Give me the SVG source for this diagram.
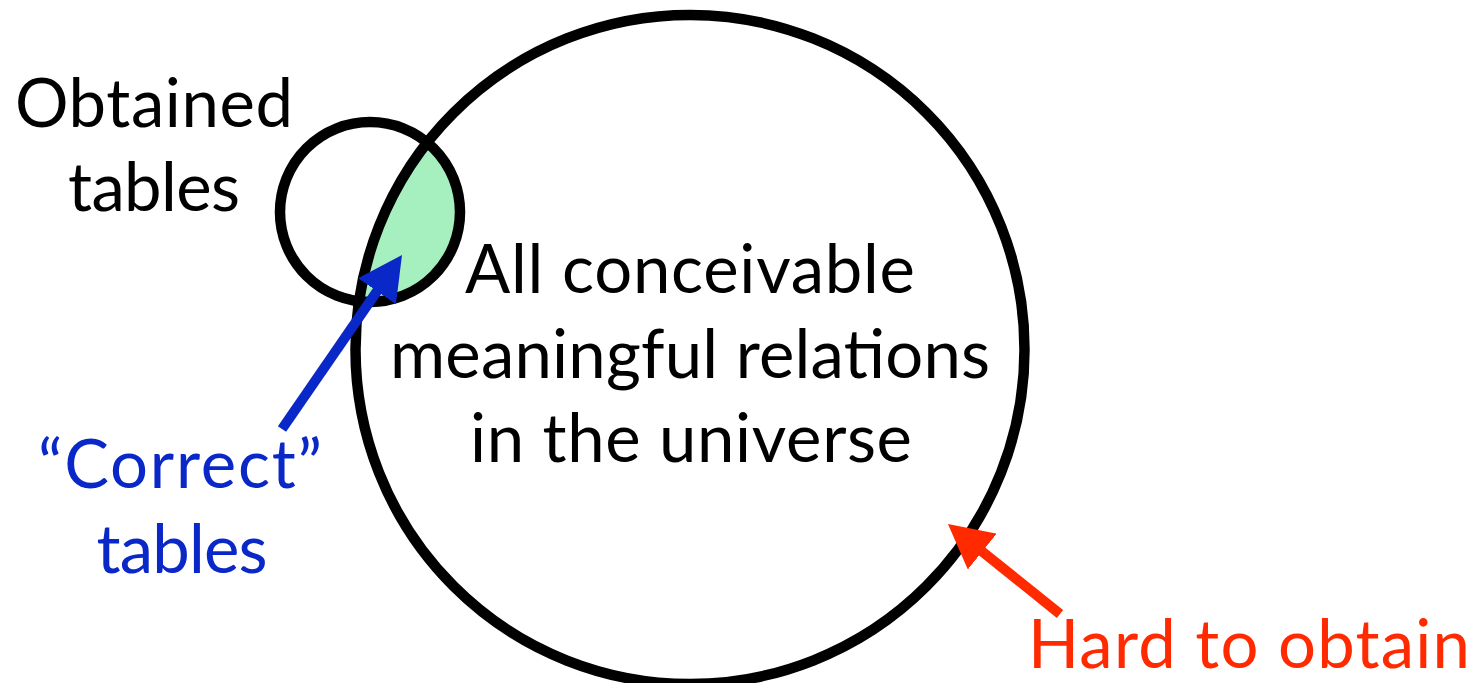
<svg xmlns="http://www.w3.org/2000/svg" width="1480" height="683" viewBox="0 0 1480 683">
  <style>
    .ring { fill: none; stroke: #000000; stroke-width: 10.5; }
    .lbl { font-family: "Lato", "Liberation Sans", sans-serif; font-size: 67px; text-anchor: middle; }
    .black { fill: #000000; }
    .blue { fill: #0a28c8; }
    .red { fill: #ff2a00; }
    .arrow-blue { stroke: #0a28c8; stroke-width: 10; fill: none; }
    .arrow-red { stroke: #ff2a00; stroke-width: 10; fill: none; }
  </style>
  <defs>
    <marker id="headBlue" markerUnits="userSpaceOnUse" viewBox="0 0 44 46" markerWidth="44" markerHeight="46" refX="22" refY="23" orient="auto">
      <path d="M0,0 L44,23 L0,46 Z" fill="#0a28c8"/>
    </marker>
    <marker id="headRed" markerUnits="userSpaceOnUse" viewBox="0 0 44 46" markerWidth="44" markerHeight="46" refX="22" refY="23" orient="auto">
      <path d="M0,0 L44,23 L0,46 Z" fill="#ff2a00"/>
    </marker>
  </defs>
  <rect width="1480" height="683" fill="#ffffff"/>

  <g id="correct-region">
    <path d="M427.2,142.5 A90,90 0 0 1 359,301.3 A334.5,334.5 0 0 1 427.2,142.5 Z" fill="#a6f0bf"/>
  </g>

  <g id="universe">
    <circle class="ring" cx="690" cy="349.5" r="334.5"/>
    <text class="lbl black" x="690" y="293" textLength="450" lengthAdjust="spacing">All conceivable</text>
    <text class="lbl black" x="690" y="378" textLength="600" lengthAdjust="spacing">meaningful relations</text>
    <text class="lbl black" x="691" y="462" textLength="442" lengthAdjust="spacing">in the universe</text>
  </g>

  <g id="obtained">
    <circle class="ring" cx="370" cy="212" r="90"/>
    <text class="lbl black" x="154" y="127" textLength="278" lengthAdjust="spacing">Obtained</text>
    <text class="lbl black" x="154" y="211" textLength="172" lengthAdjust="spacing">tables</text>
  </g>

  <g id="correct-label">
    <text class="lbl blue" x="180" y="488" textLength="284" lengthAdjust="spacing">“Correct”</text>
    <text class="lbl blue" x="182" y="573" textLength="171" lengthAdjust="spacing">tables</text>
  </g>

  <g id="hard-label">
    <text class="lbl red" x="1249" y="668" textLength="442" lengthAdjust="spacing">Hard to obtain</text>
  </g>

  <g id="connectors">
    <line class="arrow-blue" x1="282" y1="429" x2="389.5" y2="273.1" marker-end="url(#headBlue)"/>
    <line class="arrow-red" x1="1060" y1="614" x2="965.1" y2="537.8" marker-end="url(#headRed)"/>
  </g>
</svg>
